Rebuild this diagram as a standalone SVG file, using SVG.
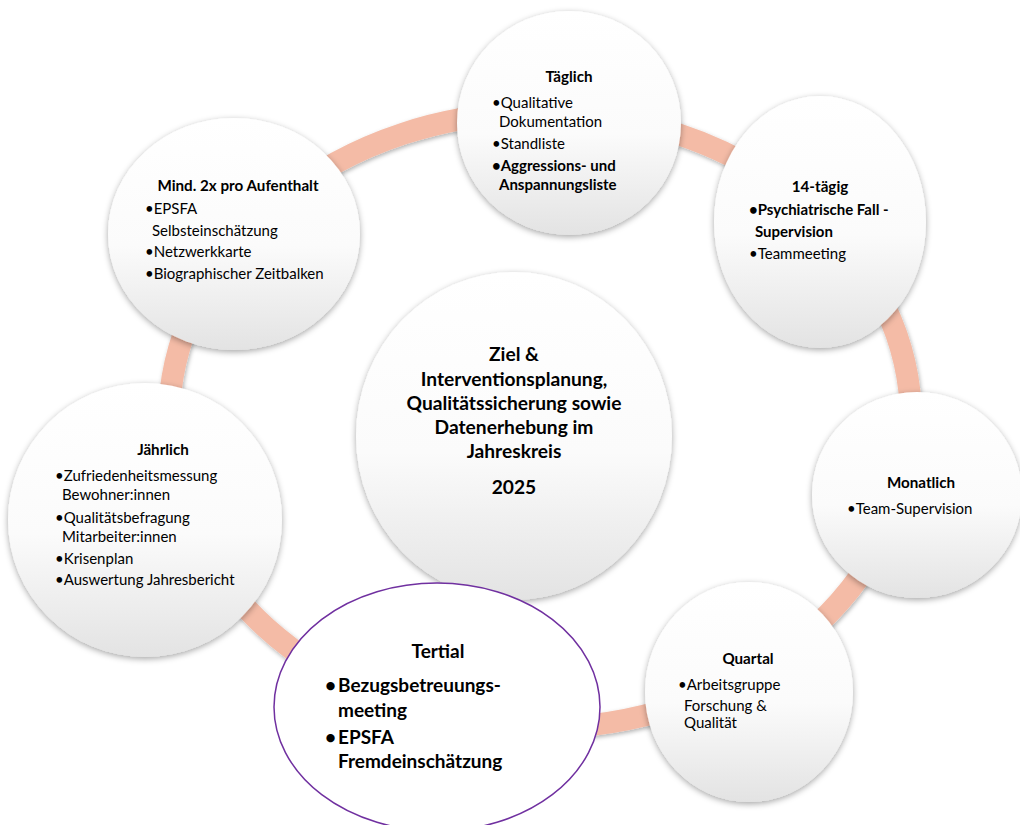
<svg xmlns="http://www.w3.org/2000/svg" width="1020" height="825" viewBox="0 0 1020 825">
<style>
text{font-family:Lato,"Liberation Sans",sans-serif;fill:#000}
.t{font-size:15.2px;font-weight:bold;text-anchor:middle}
.b{font-size:15px}
.bb{font-size:15px;font-weight:bold}
.ct{font-size:19.2px;font-weight:bold;text-anchor:middle}
.tt{font-size:19px;font-weight:bold}
.node{fill:url(#g);filter:url(#sh)}
</style>
<defs>
<linearGradient id="g" x1="0" y1="0" x2="0" y2="1">
<stop offset="0" stop-color="#ffffff"/>
<stop offset="0.55" stop-color="#fbfbfb"/>
<stop offset="1" stop-color="#e3e3e3"/>
</linearGradient>
<filter id="sh" x="-20%" y="-20%" width="140%" height="140%">
<feDropShadow dx="0" dy="2" stdDeviation="3" flood-color="#000" flood-opacity="0.35"/>
</filter>
<filter id="rs" x="-10%" y="-10%" width="120%" height="120%">
<feDropShadow dx="1" dy="2" stdDeviation="2" flood-color="#000" flood-opacity="0.3"/>
</filter>
</defs>
<rect width="1020" height="825" fill="#fff"/>
<g id="connectors">
<ellipse cx="540" cy="420" rx="371" ry="308" fill="none" stroke="#F4BBA6" stroke-width="22" filter="url(#rs)"/>
</g>
<g id="center">
<ellipse class="node" cx="514" cy="436" rx="158" ry="164"/>
<text class="ct" x="514" y="361">Ziel &amp;</text>
<text class="ct" x="514" y="386">Interventionsplanung,</text>
<text class="ct" x="514" y="410">Qualitätssicherung sowie</text>
<text class="ct" x="514" y="434">Datenerhebung im</text>
<text class="ct" x="514" y="458">Jahreskreis</text>
<text class="ct" x="514" y="494">2025</text>
</g>
<g id="taeglich">
<ellipse class="node" cx="569" cy="123" rx="112" ry="112"/>
<text class="t" x="569" y="82">Täglich</text>
<text class="b" x="492" y="108">•Qualitative</text>
<text class="b" x="499" y="127">Dokumentation</text>
<text class="b" x="492" y="149">•Standliste</text>
<text class="bb" x="492" y="171">•Aggressions- und</text>
<text class="bb" x="499" y="190">Anspannungsliste</text>
</g>
<g id="mind2x">
<ellipse class="node" cx="234" cy="234" rx="126" ry="116"/>
<text class="t" x="238" y="191">Mind. 2x pro Aufenthalt</text>
<text class="b" x="145" y="214">•EPSFA</text>
<text class="b" x="152" y="236">Selbsteinschätzung</text>
<text class="b" x="145" y="257">•Netzwerkkarte</text>
<text class="b" x="145" y="279">•Biographischer Zeitbalken</text>
</g>
<g id="vierzehntaegig">
<ellipse class="node" cx="820" cy="222" rx="106" ry="126"/>
<text class="t" x="820" y="192">14-tägig</text>
<text class="bb" x="749" y="215">•Psychiatrische Fall -</text>
<text class="bb" x="755" y="237">Supervision</text>
<text class="b" x="749" y="259">•Teammeeting</text>
</g>
<g id="monatlich">
<ellipse class="node" cx="917" cy="495" rx="105" ry="103"/>
<text class="t" x="921" y="488">Monatlich</text>
<text class="b" x="847" y="514">•Team-Supervision</text>
</g>
<g id="quartal">
<ellipse class="node" cx="749" cy="692" rx="104" ry="110"/>
<text class="t" x="748" y="664">Quartal</text>
<text class="b" x="678" y="690">•Arbeitsgruppe</text>
<text class="b" x="684" y="711">Forschung &amp;</text>
<text class="b" x="684" y="728">Qualität</text>
</g>
<g id="jaehrlich">
<ellipse class="node" cx="145" cy="520" rx="137" ry="137"/>
<text class="t" x="163" y="455">Jährlich</text>
<text class="b" x="55" y="481">•Zufriedenheitsmessung</text>
<text class="b" x="62" y="500">Bewohner:innen</text>
<text class="b" x="55" y="523">•Qualitätsbefragung</text>
<text class="b" x="62" y="542">Mitarbeiter:innen</text>
<text class="b" x="55" y="564">•Krisenplan</text>
<text class="b" x="55" y="585">•Auswertung Jahresbericht</text>
</g>
<g id="tertial">
<ellipse cx="437" cy="707" rx="163" ry="124" fill="#fff" stroke="#7030A0" stroke-width="1.5"/>
<text class="tt" x="438" y="658" text-anchor="middle">Tertial</text>
<text class="tt" x="325" y="692">•</text>
<text class="tt" x="338" y="692">Bezugsbetreuungs-</text>
<text class="tt" x="338" y="717">meeting</text>
<text class="tt" x="325" y="744">•</text>
<text class="tt" x="338" y="744">EPSFA</text>
<text class="tt" x="338" y="768">Fremdeinschätzung</text>
</g>
</svg>
